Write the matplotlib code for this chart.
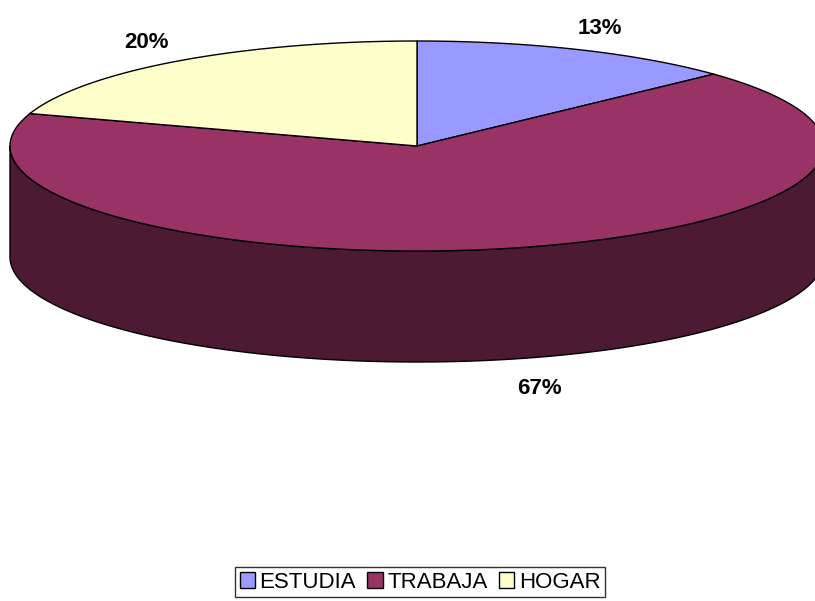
import numpy as np
import matplotlib.pyplot as plt
from matplotlib.patches import Polygon, Patch

categories = ['ESTUDIA', 'TRABAJA', 'HOGAR']
values = [13, 67, 20]
colors = ['#9999FF', '#993366', '#FFFFCC']
side_colors = ['#4C4C80', '#4C1A33', '#808066']

W, H = 815, 601
cx, cy = 417, 146      # centre of top face (pixels)
rx, ry = 407, 105      # semi-axes of top face
depth = 111

fig = plt.figure(figsize=(W / 100, H / 100), dpi=100)
ax = fig.add_axes([0, 0, 1, 1])
ax.set_xlim(0, W)
ax.set_ylim(H, 0)
ax.axis('off')

def pt(a, dz=0):
    return cx + rx * np.cos(np.radians(a)), cy - ry * np.sin(np.radians(a)) + dz

# slice angles: start at 12 o'clock, clockwise
total = sum(values)
bounds = [90.0]
for v in values:
    bounds.append(bounds[-1] - v / total * 360)

# side wall (front half: angles between -180 and 0)
for i in range(len(values)):
    a0, a1 = bounds[i], bounds[i + 1]   # a0 > a1
    for shift in (0, -360, 360):
        hi, lo = min(a0 + shift, 0), max(a1 + shift, -180)
        if hi <= lo:
            continue
        angs = np.linspace(hi, lo, 200)
        top = [pt(a) for a in angs]
        bot = [pt(a, depth) for a in angs[::-1]]
        ax.add_patch(Polygon(top + bot, closed=True, facecolor=side_colors[i],
                             edgecolor='black', lw=1, joinstyle='round'))

# top face
for i in range(len(values)):
    angs = np.linspace(bounds[i], bounds[i + 1], 300)
    verts = [(cx, cy)] + [pt(a) for a in angs]
    ax.add_patch(Polygon(verts, closed=True, facecolor=colors[i],
                         edgecolor='black', lw=1, joinstyle='round'))

# percentage labels
for i, v in enumerate(values):
    mid = (bounds[i] + bounds[i + 1]) / 2
    c, s = np.cos(np.radians(mid)), np.sin(np.radians(mid))
    lx = cx + rx * c * 1.13
    ly = cy - ry * s * 1.22
    if s < 0:
        ly += depth + 6
        lx += 22
    ax.text(lx, ly, f'{v / total * 100:.0f}%', ha='center', va='center',
            fontsize=16, fontweight='bold', family='Liberation Sans')

handles = [Patch(facecolor=colors[i], edgecolor='black', lw=1, label=categories[i])
           for i in range(len(values))]
leg = fig.legend(handles=handles, loc='center', bbox_to_anchor=(420 / W, 1 - 582 / H),
                 ncol=3, frameon=True, fancybox=False, edgecolor='black',
                 prop={'family': 'Liberation Sans', 'size': 16},
                 handlelength=0.7, handleheight=0.7, handletextpad=0.2,
                 columnspacing=0.5, borderpad=0.2, borderaxespad=0)
leg.get_frame().set_linewidth(1)

fig.savefig('out.png', dpi=100)
